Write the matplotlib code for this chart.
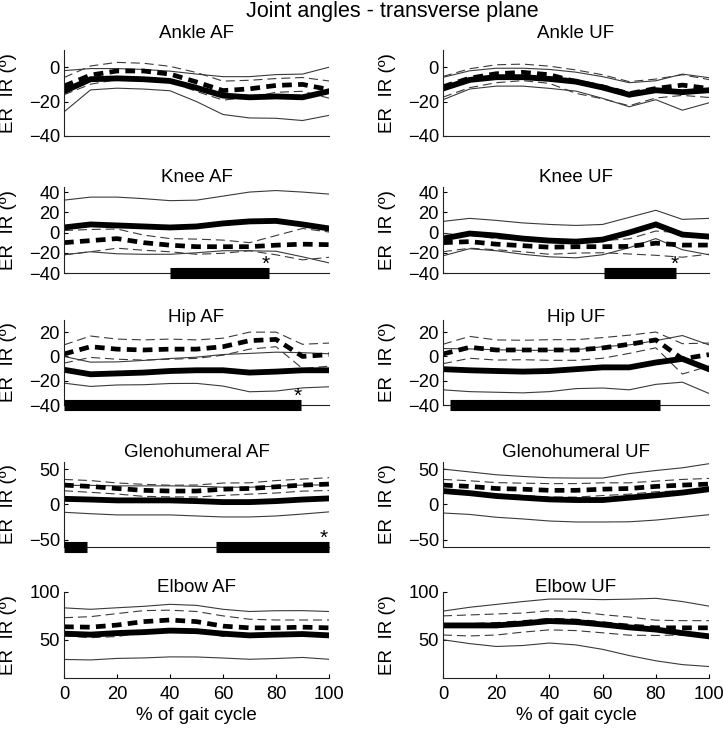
import numpy as np
import matplotlib
matplotlib.use("Agg")
import matplotlib.pyplot as plt

plt.rcParams['font.family'] = ['Liberation Sans', 'DejaVu Sans']
plt.rcParams['lines.scale_dashes'] = False

x_pct = [0, 10, 20, 30, 40, 50, 60, 70, 80, 90, 100]
x_ticks = [0, 20, 40, 60, 80, 100]

# ---- data: mean and SD per group (solid = group 1, dashed = group 2) ----
ankle_af_m1 = [-14, -7, -6.5, -7, -8, -12, -16.5, -17.5, -17, -17.5, -14]
ankle_af_sd1 = [12, 6.2, 5.7, 5.7, 5.7, 8, 11, 12, 12.7, 13.5, 14]
ankle_af_m2 = [-11, -4.6, -2.2, -2.2, -4, -8.6, -13.6, -12.6, -10.6, -10, -13]
ankle_af_sd2 = [5, 5.3, 5, 4.5, 4.5, 5.5, 5.5, 5, 4, 4, 5]

ankle_uf_m1 = [-12.4, -7.4, -5.8, -5.8, -6.8, -8.4, -11.8, -16, -13.4, -14.5, -13.4]
ankle_uf_sd1 = [6.5, 5.3, 5.2, 5.2, 5.5, 5.5, 6.3, 7, 5.5, 10.5, 7.3]
ankle_uf_m2 = [-11.4, -6.4, -3.8, -3, -4.4, -8.4, -11.4, -15.4, -12.4, -10.4, -12.4]
ankle_uf_sd2 = [6, 5.5, 5.2, 4.8, 5, 6.8, 7, 7, 5.5, 6, 5.2]

knee_af_m1 = [5, 8, 7, 6, 5, 6, 9, 11, 11.5, 8, 4]
knee_af_sd1 = [27, 27, 28, 27.5, 26.5, 26, 27, 29, 30, 32, 34]
knee_af_m2 = [-10, -8, -6, -10, -12.5, -14, -14, -14, -12.5, -11.5, -12]
knee_af_sd2 = [12, 11, 9.5, 7.5, 6.5, 7.5, 6.5, 4, 9.5, 15.5, 12.5]

knee_uf_m1 = [-6, -1, -3, -6, -8, -9, -7, 0, 8, -2, -4]
knee_uf_sd1 = [17, 15, 15, 15.5, 16, 16, 15, 15, 14, 15, 18]
knee_uf_m2 = [-10, -9, -11.5, -13, -14.5, -14, -14, -13.7, -10.5, -12.4, -12.4]
knee_uf_sd2 = [9, 6.5, 5.5, 6, 7, 6.3, 6, 7.5, 12, 12, 9]

hip_af_m1 = [-11, -14.7, -14, -13.3, -12, -11.4, -11.4, -13.3, -12.5, -11.4, -11.4]
hip_af_sd1 = [11, 10, 9.5, 10, 10.3, 10.8, 13, 15.8, 16, 14.5, 13.6]
hip_af_m2 = [2, 8, 6, 5.3, 6, 6, 8, 13, 14, 0, 1.5]
hip_af_sd2 = [7.5, 8.8, 8.3, 8.3, 8.3, 7.6, 7, 7, 6, 10, 9.5]

hip_uf_m1 = [-10.5, -11.4, -12, -12.5, -12, -10.5, -9, -9, -5, -2, -10.5]
hip_uf_sd1 = [17, 17.6, 17.5, 17.5, 17, 16, 17, 18.5, 18, 19.2, 20]
hip_uf_m2 = [2, 7.5, 5.3, 5.3, 5.3, 5.3, 7, 10, 13.6, -2, 1.5]
hip_uf_sd2 = [8, 9, 8.3, 8, 8.5, 8.5, 8.5, 7.5, 6.5, 12.5, 9.5]

gleno_af_m1 = [8, 7, 5.8, 5.8, 5.8, 4.8, 3.4, 3.4, 4.8, 7, 8.6]
gleno_af_sd1 = [19, 20, 20.5, 20.5, 20.5, 21, 21, 21, 21, 20.5, 19]
gleno_af_m2 = [27.4, 25.5, 22.6, 20, 19, 19, 21.6, 22.6, 25, 27.4, 28.8]
gleno_af_sd2 = [8, 8.3, 7.8, 8.5, 8.2, 8.5, 8.7, 8, 8.8, 8.5, 9]

gleno_uf_m1 = [19, 16, 12, 9.6, 7.2, 6.3, 6.3, 9.6, 13, 16.8, 21.6]
gleno_uf_sd1 = [31, 30, 30, 30, 30.5, 31, 31, 34, 35, 35, 36]
gleno_uf_m2 = [27.4, 25.5, 22.6, 21.6, 20, 20, 21.6, 22.6, 25.5, 27.4, 28.8]
gleno_uf_sd2 = [8, 8, 8.3, 8.5, 9.5, 9.5, 9, 8, 7.5, 8, 8]

elbow_af_m1 = [56.4, 55.4, 57, 58, 59.6, 59, 56.4, 54.6, 55.4, 56, 54.6]
elbow_af_sd1 = [27, 26.5, 26.5, 27, 27.5, 27, 25.5, 25, 25, 24.5, 25]
elbow_af_m2 = [63.6, 63.2, 65.4, 69, 70.7, 69, 64.3, 62.5, 62.5, 63.2, 62.5]
elbow_af_sd2 = [9.5, 11, 12, 11.5, 10.3, 10.6, 10.7, 9, 8.2, 7.5, 8.2]

elbow_uf_m1 = [65, 65, 65, 67, 69.6, 68.6, 66, 63, 60.7, 57, 53.6]
elbow_uf_sd1 = [15, 19, 22, 23, 23, 24, 26, 29.5, 32.7, 33, 31.6]
elbow_uf_m2 = [65, 65, 66, 68, 70.4, 69.6, 66.8, 64.3, 62.5, 62.5, 62.5]
elbow_uf_sd2 = [10, 11, 11, 10, 10, 10, 9.5, 9.5, 8, 7.5, 7.5]

# significant regions (% gait cycle) and asterisk positions
knee_af_sig = [(40, 77.5)]
knee_uf_sig = [(60.5, 87.6)]
hip_af_sig = [(0, 89.5)]
hip_uf_sig = [(2.8, 81.6)]
gleno_af_sig = [(0, 8.8), (57.5, 100)]
knee_af_star = 76
knee_uf_star = 87
hip_af_star = 88
gleno_af_star = 98

titles = ["Ankle AF", "Ankle UF", "Knee AF", "Knee UF", "Hip AF", "Hip UF",
          "Glenohumeral AF", "Glenohumeral UF", "Elbow AF", "Elbow UF"]

panels = [
    (ankle_af_m1, ankle_af_sd1, ankle_af_m2, ankle_af_sd2, (-40, 10), [-40, -20, 0], [], None),
    (ankle_uf_m1, ankle_uf_sd1, ankle_uf_m2, ankle_uf_sd2, (-40, 10), [-40, -20, 0], [], None),
    (knee_af_m1, knee_af_sd1, knee_af_m2, knee_af_sd2, (-40, 45), [-40, -20, 0, 20, 40], knee_af_sig, knee_af_star),
    (knee_uf_m1, knee_uf_sd1, knee_uf_m2, knee_uf_sd2, (-40, 45), [-40, -20, 0, 20, 40], knee_uf_sig, knee_uf_star),
    (hip_af_m1, hip_af_sd1, hip_af_m2, hip_af_sd2, (-40, 30), [-40, -20, 0, 20], hip_af_sig, hip_af_star),
    (hip_uf_m1, hip_uf_sd1, hip_uf_m2, hip_uf_sd2, (-40, 30), [-40, -20, 0, 20], hip_uf_sig, None),
    (gleno_af_m1, gleno_af_sd1, gleno_af_m2, gleno_af_sd2, (-60, 60), [-50, 0, 50], gleno_af_sig, gleno_af_star),
    (gleno_uf_m1, gleno_uf_sd1, gleno_uf_m2, gleno_uf_sd2, (-60, 60), [-50, 0, 50], [], None),
    (elbow_af_m1, elbow_af_sd1, elbow_af_m2, elbow_af_sd2, (10, 100), [50, 100], [], None),
    (elbow_uf_m1, elbow_uf_sd1, elbow_uf_m2, elbow_uf_sd2, (10, 100), [50, 100], [], None),
]

W, H = 723, 730
fig = plt.figure(figsize=(W / 100, H / 100), dpi=100)

col_x = [(64, 329), (443, 709)]
row_y = [(50, 136), (187, 273), (320, 405), (462, 547), (592, 678)]
title_base = [38, 182, 322, 457, 592]

thin_col = '#3a3a3a'
x = np.array(x_pct, dtype=float)

for i, (m1, sd1, m2, sd2, ylim, yt, sig, star) in enumerate(panels):
    r, c = divmod(i, 2)
    x0, x1 = col_x[c]
    y0, y1 = row_y[r]
    ax = fig.add_axes([x0 / W, 1 - y1 / H, (x1 - x0) / W, (y1 - y0) / H])
    m1 = np.array(m1); sd1 = np.array(sd1); m2 = np.array(m2); sd2 = np.array(sd2)

    ax.plot(x, m1 + sd1, color=thin_col, lw=0.8)
    ax.plot(x, m1 - sd1, color=thin_col, lw=0.8)
    ax.plot(x, m2 + sd2, color=thin_col, lw=0.8, dashes=(6.5, 3.5))
    ax.plot(x, m2 - sd2, color=thin_col, lw=0.8, dashes=(6.5, 3.5))
    ax.plot(x, m1, color='k', lw=4.2, solid_joinstyle='miter')
    ax.plot(x, m2, color='k', lw=3.4, dashes=(7, 4.5))

    for (a, b) in sig:
        ax.plot([a, b], [ylim[0], ylim[0]], color='k', lw=8,
                solid_capstyle='butt', clip_on=False, zorder=5)
    if star is not None:
        ax.annotate('*', xy=(star, ylim[0]), xytext=(0, 6), textcoords='offset points',
                    ha='center', va='center', fontsize=15, annotation_clip=False)

    ax.set_xlim(0, 100)
    ax.set_ylim(*ylim)
    ax.set_yticks(yt)
    for s in ['top', 'right']:
        ax.spines[s].set_visible(False)
    for s in ['left', 'bottom']:
        ax.spines[s].set_linewidth(0.8)
        ax.spines[s].set_color('#222222')
    ax.tick_params(direction='in', length=3, width=0.8, labelsize=13.2, pad=3)
    ax.tick_params(axis='x', pad=6)
    if r == 4:
        ax.set_xticks(x_ticks)
        ax.set_xlabel('% of gait cycle', fontsize=13.5, labelpad=3)
    else:
        ax.set_xticks([])
    fig.text((x0 + x1) / 2 / W, 1 - title_base[r] / H, titles[i],
             ha='center', va='baseline', fontsize=13.5)
    ax.set_ylabel('ER  IR (º)', fontsize=13.5)
    ax.yaxis.set_label_coords(-0.178, 0.5)

fig.text(392 / W, 1 - 11 / H, 'Joint angles - transverse plane', ha='center', va='center', fontsize=15.5)

fig.savefig('out.png', dpi=100)
